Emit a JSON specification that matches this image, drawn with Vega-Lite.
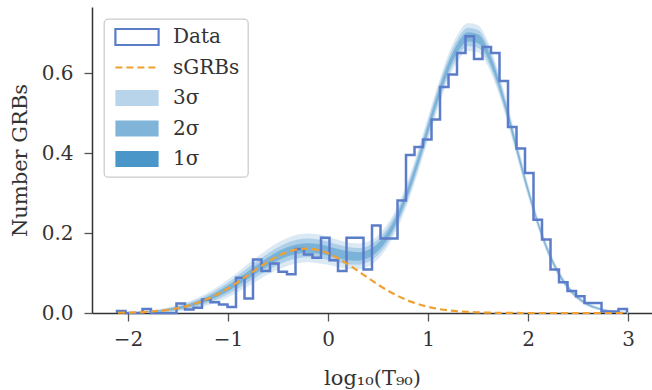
{
  "$schema": "https://vega.github.io/schema/vega-lite/v6.json",
  "width": 560,
  "height": 306,
  "autosize": {"type": "none"},
  "padding": {"left": 92, "top": 7, "right": 0, "bottom": 77},
  "background": "white",
  "config": {
    "view": {"stroke": null},
    "font": "DejaVu Serif",
    "axis": {
      "grid": false,
      "domainColor": "#333333",
      "domainWidth": 1.5,
      "tickColor": "#555555",
      "tickWidth": 1.3,
      "tickSize": 8,
      "labelFont": "DejaVu Serif",
      "labelFontSize": 20,
      "labelColor": "#333333",
      "titleFont": "DejaVu Serif",
      "titleFontSize": 21,
      "titleFontWeight": "normal",
      "titleColor": "#333333"
    }
  },
  "datasets": {
    "hist": [
      {"k": 0, "edge": -2.110, "n": 0},
      {"k": 1, "edge": -2.110, "n": 0.005},
      {"k": 2, "edge": -2.025, "n": 0},
      {"k": 3, "edge": -1.940, "n": 0},
      {"k": 4, "edge": -1.855, "n": 0.010},
      {"k": 5, "edge": -1.770, "n": 0},
      {"k": 6, "edge": -1.685, "n": 0},
      {"k": 7, "edge": -1.600, "n": 0},
      {"k": 8, "edge": -1.515, "n": 0.024},
      {"k": 9, "edge": -1.430, "n": 0.009},
      {"k": 10, "edge": -1.345, "n": 0.013},
      {"k": 11, "edge": -1.260, "n": 0.034},
      {"k": 12, "edge": -1.175, "n": 0.027},
      {"k": 13, "edge": -1.090, "n": 0.021},
      {"k": 14, "edge": -1.005, "n": 0.015},
      {"k": 15, "edge": -0.920, "n": 0.088},
      {"k": 16, "edge": -0.835, "n": 0.036},
      {"k": 17, "edge": -0.750, "n": 0.134},
      {"k": 18, "edge": -0.665, "n": 0.105},
      {"k": 19, "edge": -0.580, "n": 0.124},
      {"k": 20, "edge": -0.495, "n": 0.103},
      {"k": 21, "edge": -0.410, "n": 0.097},
      {"k": 22, "edge": -0.325, "n": 0.160},
      {"k": 23, "edge": -0.240, "n": 0.146},
      {"k": 24, "edge": -0.155, "n": 0.138},
      {"k": 25, "edge": -0.070, "n": 0.188},
      {"k": 26, "edge": 0.015, "n": 0.132},
      {"k": 27, "edge": 0.100, "n": 0.105},
      {"k": 28, "edge": 0.185, "n": 0.188},
      {"k": 29, "edge": 0.270, "n": 0.188},
      {"k": 30, "edge": 0.355, "n": 0.109},
      {"k": 31, "edge": 0.440, "n": 0.219},
      {"k": 32, "edge": 0.525, "n": 0.186},
      {"k": 33, "edge": 0.610, "n": 0.186},
      {"k": 34, "edge": 0.695, "n": 0.281},
      {"k": 35, "edge": 0.780, "n": 0.395},
      {"k": 36, "edge": 0.865, "n": 0.415},
      {"k": 37, "edge": 0.950, "n": 0.434},
      {"k": 38, "edge": 1.035, "n": 0.484},
      {"k": 39, "edge": 1.120, "n": 0.565},
      {"k": 40, "edge": 1.205, "n": 0.596},
      {"k": 41, "edge": 1.290, "n": 0.650},
      {"k": 42, "edge": 1.375, "n": 0.692},
      {"k": 43, "edge": 1.460, "n": 0.635},
      {"k": 44, "edge": 1.545, "n": 0.665},
      {"k": 45, "edge": 1.630, "n": 0.650},
      {"k": 46, "edge": 1.715, "n": 0.580},
      {"k": 47, "edge": 1.800, "n": 0.465},
      {"k": 48, "edge": 1.885, "n": 0.411},
      {"k": 49, "edge": 1.970, "n": 0.350},
      {"k": 50, "edge": 2.055, "n": 0.233},
      {"k": 51, "edge": 2.140, "n": 0.184},
      {"k": 52, "edge": 2.225, "n": 0.109},
      {"k": 53, "edge": 2.310, "n": 0.077},
      {"k": 54, "edge": 2.395, "n": 0.055},
      {"k": 55, "edge": 2.480, "n": 0.042},
      {"k": 56, "edge": 2.565, "n": 0.025},
      {"k": 57, "edge": 2.650, "n": 0.025},
      {"k": 58, "edge": 2.735, "n": 0.004},
      {"k": 59, "edge": 2.820, "n": 0.004},
      {"k": 60, "edge": 2.905, "n": 0.010},
      {"k": 61, "edge": 2.990, "n": 0}
    ],
    "sgrb": [
      {"x": -2.1, "y": 0.0006}, {"x": -2.0, "y": 0.0011}, {"x": -1.9, "y": 0.0019},
      {"x": -1.8, "y": 0.0031}, {"x": -1.7, "y": 0.0051}, {"x": -1.6, "y": 0.0080},
      {"x": -1.5, "y": 0.0122}, {"x": -1.4, "y": 0.0179}, {"x": -1.3, "y": 0.0256},
      {"x": -1.2, "y": 0.0354}, {"x": -1.1, "y": 0.0475}, {"x": -1.0, "y": 0.0616},
      {"x": -0.9, "y": 0.0776}, {"x": -0.8, "y": 0.0947}, {"x": -0.7, "y": 0.1119},
      {"x": -0.6, "y": 0.1282}, {"x": -0.5, "y": 0.1423}, {"x": -0.4, "y": 0.1530},
      {"x": -0.3, "y": 0.1594}, {"x": -0.2, "y": 0.1610}, {"x": -0.1, "y": 0.1574},
      {"x": 0.0, "y": 0.1492}, {"x": 0.1, "y": 0.1370}, {"x": 0.2, "y": 0.1219},
      {"x": 0.3, "y": 0.1051}, {"x": 0.4, "y": 0.0878}, {"x": 0.5, "y": 0.0711},
      {"x": 0.6, "y": 0.0558}, {"x": 0.7, "y": 0.0424}, {"x": 0.8, "y": 0.0312},
      {"x": 0.9, "y": 0.0223}, {"x": 1.0, "y": 0.0154}, {"x": 1.1, "y": 0.0103},
      {"x": 1.2, "y": 0.0067}, {"x": 1.3, "y": 0.0042}, {"x": 1.4, "y": 0.0026},
      {"x": 1.5, "y": 0.0015}, {"x": 1.6, "y": 0.0009}, {"x": 1.7, "y": 0.0005},
      {"x": 1.8, "y": 0.0003}, {"x": 1.9, "y": 0.0001}, {"x": 2.0, "y": 0.0},
      {"x": 2.5, "y": 0.0}, {"x": 3.0, "y": 0.0}
    ],
    "bands": [
      {"x": -2.1, "lo3": 0, "hi3": 0.0016, "lo2": 0, "hi2": 0.0013, "lo1": 0.0003, "hi1": 0.0009},
      {"x": -2.0, "lo3": 0, "hi3": 0.0026, "lo2": 0.0001, "hi2": 0.0021, "lo1": 0.0006, "hi1": 0.0016},
      {"x": -1.9, "lo3": 0, "hi3": 0.0039, "lo2": 0.0006, "hi2": 0.0032, "lo1": 0.0012, "hi1": 0.0026},
      {"x": -1.8, "lo3": 0.0001, "hi3": 0.0061, "lo2": 0.0012, "hi2": 0.0051, "lo1": 0.0021, "hi1": 0.0041},
      {"x": -1.7, "lo3": 0.0011, "hi3": 0.0091, "lo2": 0.0025, "hi2": 0.0077, "lo1": 0.0038, "hi1": 0.0064},
      {"x": -1.6, "lo3": 0.0020, "hi3": 0.0140, "lo2": 0.0041, "hi2": 0.0119, "lo1": 0.0060, "hi1": 0.0100},
      {"x": -1.5, "lo3": 0.0042, "hi3": 0.0202, "lo2": 0.0070, "hi2": 0.0174, "lo1": 0.0096, "hi1": 0.0148},
      {"x": -1.4, "lo3": 0.0079, "hi3": 0.0279, "lo2": 0.0114, "hi2": 0.0244, "lo1": 0.0146, "hi1": 0.0212},
      {"x": -1.3, "lo3": 0.0126, "hi3": 0.0386, "lo2": 0.0171, "hi2": 0.0341, "lo1": 0.0213, "hi1": 0.0299},
      {"x": -1.2, "lo3": 0.0194, "hi3": 0.0514, "lo2": 0.0250, "hi2": 0.0458, "lo1": 0.0301, "hi1": 0.0407},
      {"x": -1.1, "lo3": 0.0285, "hi3": 0.0665, "lo2": 0.0351, "hi2": 0.0599, "lo1": 0.0412, "hi1": 0.0538},
      {"x": -1.0, "lo3": 0.0396, "hi3": 0.0836, "lo2": 0.0473, "hi2": 0.0759, "lo1": 0.0543, "hi1": 0.0689},
      {"x": -0.9, "lo3": 0.0526, "hi3": 0.1026, "lo2": 0.0613, "hi2": 0.0939, "lo1": 0.0693, "hi1": 0.0859},
      {"x": -0.8, "lo3": 0.0667, "hi3": 0.1227, "lo2": 0.0765, "hi2": 0.1129, "lo1": 0.0855, "hi1": 0.1039},
      {"x": -0.7, "lo3": 0.0819, "hi3": 0.1419, "lo2": 0.0924, "hi2": 0.1314, "lo1": 0.1020, "hi1": 0.1218},
      {"x": -0.6, "lo3": 0.0962, "hi3": 0.1602, "lo2": 0.1074, "hi2": 0.1490, "lo1": 0.1176, "hi1": 0.1388},
      {"x": -0.5, "lo3": 0.1083, "hi3": 0.1763, "lo2": 0.1202, "hi2": 0.1644, "lo1": 0.1311, "hi1": 0.1535},
      {"x": -0.4, "lo3": 0.1184, "hi3": 0.1884, "lo2": 0.1306, "hi2": 0.1762, "lo1": 0.1418, "hi1": 0.1650},
      {"x": -0.3, "lo3": 0.1241, "hi3": 0.1961, "lo2": 0.1367, "hi2": 0.1835, "lo1": 0.1482, "hi1": 0.1720},
      {"x": -0.2, "lo3": 0.1266, "hi3": 0.1986, "lo2": 0.1392, "hi2": 0.1860, "lo1": 0.1507, "hi1": 0.1745},
      {"x": -0.1, "lo3": 0.1246, "hi3": 0.1966, "lo2": 0.1372, "hi2": 0.1840, "lo1": 0.1487, "hi1": 0.1725},
      {"x": 0.0, "lo3": 0.1205, "hi3": 0.1905, "lo2": 0.1327, "hi2": 0.1783, "lo1": 0.1439, "hi1": 0.1671},
      {"x": 0.1, "lo3": 0.1149, "hi3": 0.1829, "lo2": 0.1268, "hi2": 0.1710, "lo1": 0.1377, "hi1": 0.1601},
      {"x": 0.2, "lo3": 0.1102, "hi3": 0.1762, "lo2": 0.1217, "hi2": 0.1647, "lo1": 0.1323, "hi1": 0.1541},
      {"x": 0.3, "lo3": 0.1095, "hi3": 0.1735, "lo2": 0.1207, "hi2": 0.1623, "lo1": 0.1309, "hi1": 0.1521},
      {"x": 0.4, "lo3": 0.1165, "hi3": 0.1785, "lo2": 0.1273, "hi2": 0.1677, "lo1": 0.1373, "hi1": 0.1577},
      {"x": 0.5, "lo3": 0.1346, "hi3": 0.1946, "lo2": 0.1451, "hi2": 0.1841, "lo1": 0.1547, "hi1": 0.1745},
      {"x": 0.6, "lo3": 0.1667, "hi3": 0.2247, "lo2": 0.1768, "hi2": 0.2146, "lo1": 0.1861, "hi1": 0.2053},
      {"x": 0.7, "lo3": 0.2143, "hi3": 0.2703, "lo2": 0.2241, "hi2": 0.2605, "lo1": 0.2331, "hi1": 0.2515},
      {"x": 0.8, "lo3": 0.2764, "hi3": 0.3324, "lo2": 0.2862, "hi2": 0.3226, "lo1": 0.2952, "hi1": 0.3136},
      {"x": 0.9, "lo3": 0.3510, "hi3": 0.4070, "lo2": 0.3608, "hi2": 0.3972, "lo1": 0.3698, "hi1": 0.3882},
      {"x": 1.0, "lo3": 0.4317, "hi3": 0.4897, "lo2": 0.4418, "hi2": 0.4796, "lo1": 0.4511, "hi1": 0.4703},
      {"x": 1.1, "lo3": 0.5115, "hi3": 0.5715, "lo2": 0.5220, "hi2": 0.5610, "lo1": 0.5316, "hi1": 0.5514},
      {"x": 1.2, "lo3": 0.5804, "hi3": 0.6444, "lo2": 0.5916, "hi2": 0.6332, "lo1": 0.6018, "hi1": 0.6230},
      {"x": 1.3, "lo3": 0.6302, "hi3": 0.6982, "lo2": 0.6421, "hi2": 0.6863, "lo1": 0.6530, "hi1": 0.6754},
      {"x": 1.4, "lo3": 0.6551, "hi3": 0.7251, "lo2": 0.6673, "hi2": 0.7129, "lo1": 0.6785, "hi1": 0.7017},
      {"x": 1.5, "lo3": 0.6515, "hi3": 0.7195, "lo2": 0.6634, "hi2": 0.7076, "lo1": 0.6743, "hi1": 0.6967},
      {"x": 1.6, "lo3": 0.6168, "hi3": 0.6788, "lo2": 0.6276, "hi2": 0.6680, "lo1": 0.6376, "hi1": 0.6580},
      {"x": 1.7, "lo3": 0.5530, "hi3": 0.6070, "lo2": 0.5624, "hi2": 0.5976, "lo1": 0.5711, "hi1": 0.5889},
      {"x": 1.8, "lo3": 0.4716, "hi3": 0.5176, "lo2": 0.4796, "hi2": 0.5096, "lo1": 0.4870, "hi1": 0.5022},
      {"x": 1.9, "lo3": 0.3801, "hi3": 0.4181, "lo2": 0.3867, "hi2": 0.4115, "lo1": 0.3928, "hi1": 0.4054},
      {"x": 2.0, "lo3": 0.2910, "hi3": 0.3230, "lo2": 0.2966, "hi2": 0.3174, "lo1": 0.3017, "hi1": 0.3123},
      {"x": 2.1, "lo3": 0.2110, "hi3": 0.2370, "lo2": 0.2155, "hi2": 0.2325, "lo1": 0.2197, "hi1": 0.2283},
      {"x": 2.2, "lo3": 0.1440, "hi3": 0.1660, "lo2": 0.1478, "hi2": 0.1622, "lo1": 0.1514, "hi1": 0.1586},
      {"x": 2.3, "lo3": 0.0930, "hi3": 0.1110, "lo2": 0.0961, "hi2": 0.1079, "lo1": 0.0990, "hi1": 0.1050},
      {"x": 2.4, "lo3": 0.0570, "hi3": 0.0710, "lo2": 0.0594, "hi2": 0.0686, "lo1": 0.0617, "hi1": 0.0663},
      {"x": 2.5, "lo3": 0.0320, "hi3": 0.0440, "lo2": 0.0341, "hi2": 0.0419, "lo1": 0.0360, "hi1": 0.0400},
      {"x": 2.6, "lo3": 0.0160, "hi3": 0.0260, "lo2": 0.0177, "hi2": 0.0243, "lo1": 0.0193, "hi1": 0.0227},
      {"x": 2.7, "lo3": 0.0074, "hi3": 0.0154, "lo2": 0.0088, "hi2": 0.0140, "lo1": 0.0101, "hi1": 0.0127},
      {"x": 2.8, "lo3": 0.0028, "hi3": 0.0088, "lo2": 0.0038, "hi2": 0.0078, "lo1": 0.0048, "hi1": 0.0068},
      {"x": 2.9, "lo3": 0.0008, "hi3": 0.0048, "lo2": 0.0015, "hi2": 0.0041, "lo1": 0.0021, "hi1": 0.0035},
      {"x": 3.0, "lo3": 0, "hi3": 0.0028, "lo2": 0.0003, "hi2": 0.0023, "lo1": 0.0008, "hi1": 0.0018}
    ]
  },
  "layer": [
    {
      "data": {"name": "bands"},
      "mark": {"type": "area", "opacity": 0.5, "interpolate": "monotone"},
      "encoding": {
        "x": {
          "field": "x", "type": "quantitative",
          "scale": {"domain": [-2.36, 3.24], "nice": false, "zero": false},
          "axis": {"values": [-2, -1, 0, 1, 2, 3], "format": "d", "labelPadding": 8,
                   "title": "log₁₀(T₉₀)", "titleY": 71, "titleBaseline": "alphabetic"}
        },
        "y": {
          "field": "lo3", "type": "quantitative",
          "scale": {"domain": [0, 0.765], "nice": false},
          "axis": {"values": [0, 0.2, 0.4, 0.6], "format": ".1f", "labelPadding": 11,
                   "title": "Number GRBs", "titleX": -66, "titleBaseline": "alphabetic"}
        },
        "y2": {"field": "hi3"},
        "color": {
          "datum": "3σ", "type": "nominal",
          "scale": {
            "domain": ["Data", "sGRBs", "3σ", "2σ", "1σ"],
            "range": ["#ffffff", "#f0a030", "#b8d4ea", "#80b5d9", "#4a96c8"]
          },
          "legend": {
            "title": null,
            "orient": "none",
            "legendX": 12,
            "legendY": 12,
            "labelFont": "DejaVu Serif",
            "labelFontSize": 20,
            "labelColor": "#333333",
            "symbolSize": 256,
            "symbolOffset": 15,
            "labelOffset": 26,
            "clipHeight": 20,
            "rowPadding": 10.5,
            "padding": 8,
            "fillColor": "rgba(255,255,255,0.85)",
            "strokeColor": "#cccccc",
            "cornerRadius": 4,
            "symbolOpacity": 1,
            "encode": {
              "legend": {
                "update": {"strokeWidth": {"value": 1.3}}
              },
              "symbols": {
                "update": {
                  "shape": {"signal": "datum.value === 'sGRBs' ? 'M-2.7,0H2.7' : 'M-2.7,-1H2.7V1H-2.7Z'"},
                  "stroke": {"signal": "datum.value === 'Data' ? '#5b7cc9' : datum.value === 'sGRBs' ? '#f0a030' : 'transparent'"},
                  "strokeWidth": {"signal": "datum.value === 'Data' ? 2.2 : datum.value === 'sGRBs' ? 2.2 : 0"},
                  "strokeDash": {"signal": "datum.value === 'sGRBs' ? [7, 4] : [1, 0]"},
                  "opacity": {"value": 1}
                }
              }
            }
          }
        }
      }
    },
    {
      "data": {"name": "bands"},
      "mark": {"type": "area", "opacity": 0.5, "interpolate": "monotone"},
      "encoding": {
        "x": {"field": "x", "type": "quantitative"},
        "y": {"field": "lo2", "type": "quantitative"},
        "y2": {"field": "hi2"},
        "color": {"datum": "2σ", "type": "nominal"}
      }
    },
    {
      "data": {"name": "bands"},
      "mark": {"type": "area", "opacity": 0.5, "interpolate": "monotone"},
      "encoding": {
        "x": {"field": "x", "type": "quantitative"},
        "y": {"field": "lo1", "type": "quantitative"},
        "y2": {"field": "hi1"},
        "color": {"datum": "1σ", "type": "nominal"}
      }
    },
    {
      "data": {"name": "hist"},
      "mark": {"type": "line", "interpolate": "step-after", "color": "#5b7cc9", "strokeWidth": 2.5, "strokeJoin": "miter"},
      "encoding": {
        "x": {"field": "edge", "type": "quantitative"},
        "y": {"field": "n", "type": "quantitative"},
        "order": {"field": "k", "type": "quantitative"}
      }
    },
    {
      "data": {"name": "sgrb"},
      "mark": {"type": "line", "interpolate": "monotone", "color": "#f0a030", "strokeWidth": 2.2, "strokeDash": [7, 4]},
      "encoding": {
        "x": {"field": "x", "type": "quantitative"},
        "y": {"field": "y", "type": "quantitative"}
      }
    }
  ]
}
